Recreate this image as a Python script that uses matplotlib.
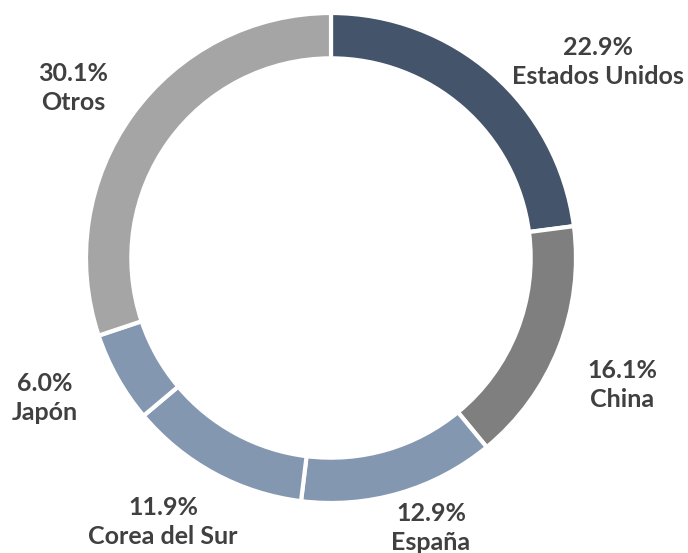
import matplotlib
matplotlib.use("Agg")
import matplotlib.pyplot as plt

# Participación por país
paises = ["Estados Unidos", "China", "España", "Corea del Sur", "Japón", "Otros"]
valores = [22.9, 16.1, 12.9, 11.9, 6.0, 30.1]
colores = ["#44546A", "#7F7F7F", "#8497B0", "#8497B0", "#8497B0", "#A5A5A5"]

# label centres in pixels (x, y from top)
label_px = [(598, 62), (622, 385), (431, 528), (163, 522), (45, 398), (73, 88)]

W, H = 688, 553
cx, cy, R = 331, 258, 245

fig = plt.figure(figsize=(W / 100, H / 100), dpi=100)
ax = fig.add_axes([0, 0, 1, 1])
ax.pie(valores, colors=colores, startangle=90, counterclock=False, radius=1,
       wedgeprops=dict(width=0.185, edgecolor="white", linewidth=3))
ax.set_xlim(-cx / R, (W - cx) / R)
ax.set_ylim(-(H - cy) / R, cy / R)
ax.set_aspect("equal")
ax.axis("off")

for nombre, v, (px, py) in zip(paises, valores, label_px):
    x = (px - cx) / R
    y = (cy - py) / R
    ax.text(x, y, f"{v:.1f}%\n{nombre}", ha="center", va="center",
            fontsize=18, fontweight="bold", color="#404040",
            family="Lato", linespacing=1.3)

fig.savefig("out.png", dpi=100)
